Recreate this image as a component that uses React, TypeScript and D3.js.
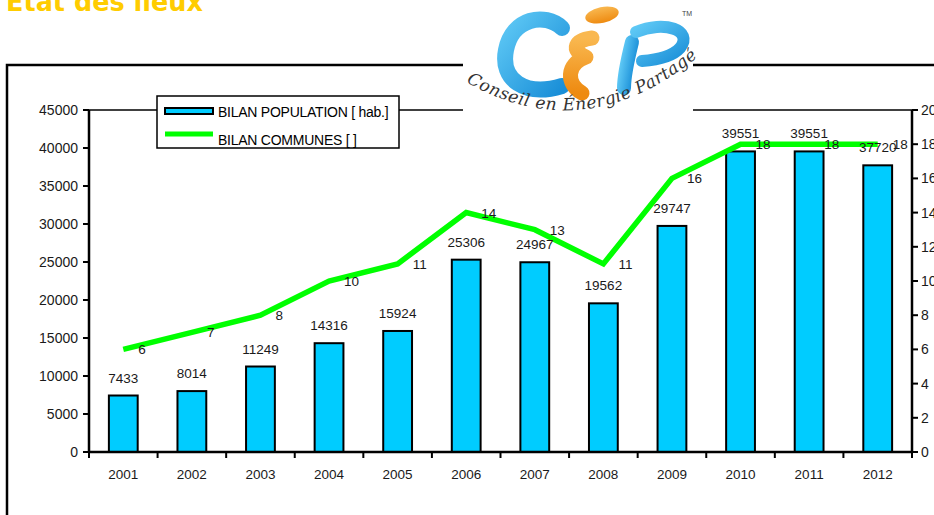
import React from 'react'
import * as d3 from 'd3'

// values
const years = ['2001', '2002', '2003', '2004', '2005', '2006', '2007', '2008', '2009', '2010', '2011', '2012']
const population = [7433, 8014, 11249, 14316, 15924, 25306, 24967, 19562, 29747, 39551, 39551, 37720]
const communes = [6, 7, 8, 10, 11, 14, 13, 11, 16, 18, 18, 18]
const leftTicks = [0, 5000, 10000, 15000, 20000, 25000, 30000, 35000, 40000, 45000]
const rightTicks = [0, 2, 4, 6, 8, 10, 12, 14, 16, 18, 20]
const legendLabels = ['BILAN POPULATION [ hab.]', 'BILAN COMMUNES [ ]']

const W = 934
const H = 515
const plot = { left: 89, right: 912, top: 110, bottom: 452 }
const font = 'Liberation Sans, Arial, sans-serif'
const barFill = '#00CCFF'
const lineColor = '#00FF00'
const textColor = '#1a1a1a'

export default function App() {
  // band scale for the years
  const x = d3.scaleBand<string>().domain(years).range([plot.left, plot.right]).paddingInner(0).paddingOuter(0)
  const yPop = d3.scaleLinear().domain([0, 45000]).range([plot.bottom, plot.top])
  const yCom = d3.scaleLinear().domain([0, 20]).range([plot.bottom, plot.top])
  const barW = x.bandwidth() * 0.42
  const cx = (d: string) => (x(d) as number) + x.bandwidth() / 2

  const line = d3
    .line<number>()
    .x((_, i) => cx(years[i]))
    .y(d => yCom(d))

  const boundaries = years.map(d => x(d) as number).concat([plot.right])

  return (
    <svg width={W} height={H} style={{ position: 'absolute', left: 0, top: 0, background: '#fff' }}>
      {/* title, cut at the top */}
      <text x={6} y={11} fill="#FFCC00" fontFamily="DejaVu Sans, sans-serif" fontWeight="bold" fontSize={27}
        textLength={197} lengthAdjust="spacingAndGlyphs">Etat des lieux</text>

      {/* outer frame */}
      <rect x={7} y={65} width={W + 20} height={H} fill="none" stroke="#000" strokeWidth={2.5} />

      {/* plot frame top */}
      <line x1={plot.left} x2={plot.right} y1={plot.top} y2={plot.top} stroke="#000" strokeWidth={1.5} />

      {/* bars */}
      {population.map((v, i) => (
        <rect key={years[i]} x={cx(years[i]) - barW / 2} y={yPop(v)} width={barW} height={plot.bottom - yPop(v)}
          fill={barFill} stroke="#000" strokeWidth={2} />
      ))}

      {/* line */}
      <path d={line(communes) || ''} fill="none" stroke={lineColor} strokeWidth={5.5} strokeLinejoin="miter" />

      {/* bar labels */}
      {population.map((v, i) => (
        <text key={'p' + i} x={cx(years[i])} y={yPop(v) - 13} textAnchor="middle" fontFamily={font} fontSize={13.5}
          fill={textColor}>{v}</text>
      ))}

      {/* line labels */}
      {communes.map((v, i) => (
        <text key={'c' + i} x={cx(years[i]) + 15} y={yCom(v) + 5} fontFamily={font} fontSize={13.5}
          fill={textColor}>{v}</text>
      ))}

      {/* left axis */}
      <line x1={plot.left} x2={plot.left} y1={plot.top} y2={plot.bottom} stroke="#000" strokeWidth={2.5} />
      {leftTicks.map(t => (
        <g key={'l' + t}>
          <line x1={plot.left - 6} x2={plot.left} y1={yPop(t)} y2={yPop(t)} stroke="#000" strokeWidth={2} />
          <text x={78} y={yPop(t) + 5} textAnchor="end" fontFamily={font} fontSize={14} fill={textColor}>{t}</text>
        </g>
      ))}

      {/* right axis */}
      <line x1={plot.right} x2={plot.right} y1={plot.top} y2={plot.bottom} stroke="#000" strokeWidth={2.5} />
      {rightTicks.map(t => (
        <g key={'r' + t}>
          <line x1={plot.right} x2={plot.right + 6} y1={yCom(t)} y2={yCom(t)} stroke="#000" strokeWidth={2} />
          <text x={921} y={yCom(t) + 5} fontFamily={font} fontSize={14} fill={textColor}>{t}</text>
        </g>
      ))}

      {/* x axis */}
      <line x1={plot.left} x2={plot.right} y1={plot.bottom} y2={plot.bottom} stroke="#000" strokeWidth={2.5} />
      {boundaries.map((b, i) => (
        <line key={'t' + i} x1={b} x2={b} y1={plot.bottom} y2={plot.bottom + 6} stroke="#000" strokeWidth={2} />
      ))}
      {years.map(d => (
        <text key={d} x={cx(d)} y={479} textAnchor="middle" fontFamily={font} fontSize={13.5} fill={textColor}>{d}</text>
      ))}

      {/* legend */}
      <g>
        <rect x={157} y={96} width={242} height={52} fill="#fff" stroke="#000" strokeWidth={1.5} />
        <rect x={165} y={108} width={48} height={6} fill={barFill} stroke="#000" strokeWidth={2} />
        <line x1={165} x2={213} y1={134} y2={134} stroke={lineColor} strokeWidth={5} />
        <text x={218} y={117} fontFamily={font} fontSize={14} fill="#000" letterSpacing={-0.25}>{legendLabels[0]}</text>
        <text x={218} y={145} fontFamily={font} fontSize={14} fill="#000" letterSpacing={-0.25}>{legendLabels[1]}</text>
      </g>

      {/* logo */}
      <g>
        <rect x={463} y={0} width={230} height={130} fill="#fff" />
        <defs>
          <linearGradient id="blueG" x1="0" y1="0" x2="1" y2="1">
            <stop offset="0" stopColor="#5ec8f5" />
            <stop offset="1" stopColor="#1a8fd8" />
          </linearGradient>
          <linearGradient id="orangeG" x1="0" y1="0" x2="0" y2="1">
            <stop offset="0" stopColor="#f9b850" />
            <stop offset="1" stopColor="#ee8a10" />
          </linearGradient>
        </defs>
        {/* C */}
        <path d="M 562 28 C 545 12 512 18 506 50 C 500 80 525 97 562 86" fill="none" stroke="url(#blueG)"
          strokeWidth={16} strokeLinecap="round" />
        {/* E */}
        <ellipse cx={602} cy={15} rx={17} ry={8} fill="url(#orangeG)" transform="rotate(-12 602 15)" />
        <path d="M 592 38 C 575 40 570 50 586 57 C 566 64 566 84 582 93" fill="none" stroke="url(#orangeG)"
          strokeWidth={15} strokeLinecap="round" strokeLinejoin="round" />
        {/* P */}
        <path d="M 632 42 C 628 58 624 74 624 88" fill="none" stroke="url(#blueG)" strokeWidth={14} strokeLinecap="round" />
        <path d="M 636 32 C 664 20 694 30 680 48 C 672 57 656 60 642 61" fill="none" stroke="url(#blueG)"
          strokeWidth={12} strokeLinecap="round" />
        <text x={682} y={16} fontFamily={font} fontSize={7} fill="#444">TM</text>
        <path id="logoArc" d="M 466 82 Q 585 150 700 55" fill="none" />
        <text fontFamily="DejaVu Serif, serif" fontStyle="italic" fontSize={17} fill="#333">
          <textPath href="#logoArc" textLength={250} lengthAdjust="spacing">Conseil en Énergie Partagé</textPath>
        </text>
      </g>
    </svg>
  )
}
